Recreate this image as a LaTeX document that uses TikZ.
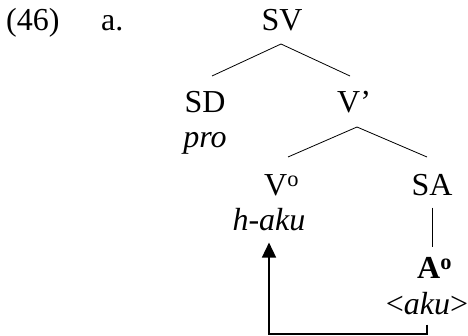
\documentclass[tikz,border=0pt]{standalone}
\usepackage{fontspec}
\setmainfont{Liberation Serif}
\usetikzlibrary{arrows.meta, calc}

\begin{document}
\begin{tikzpicture}[
    x=1pt, y=-1pt,
    font=\fontsize{32}{38}\selectfont,
    lbl/.style={inner sep=0pt, anchor=base},
    lblw/.style={inner sep=0pt, anchor=base west},
    branch/.style={line width=0.8pt, black},
    move/.style={-{Triangle[width=14pt, length=15pt]}, line width=1.6pt, black,
                 shorten <=10pt, shorten >=11pt}
  ]
    \useasboundingbox (0,0) rectangle (468,336);
    % example number
    \node[lblw] (ex) at (6,31) {(46)};
    \node[lblw] (exa) at (101,31) {a.};
    % tree labels
    \node[lbl] (sv) at (282,31) {SV};
    \node[lbl] (sd) at (205,113) {SD};
    \node[lbl] (pro) at (205,148) {\itshape pro};
    \node[lblw] (vbar) at (337,113) {V’};
    \node[lblw] (v0) at (264,196) {V\textsuperscript{o}};
    \node[lbl] (haku) at (269,231) {\itshape h-aku};
    \node[lbl] (sa) at (432,196) {SA};
    \node[lblw] (a0) at (417,279) {\bfseries A\textsuperscript{o}};
    \node[lbl] (aku) at (427,314) {<\textit{aku}>};
    % branch ends
    \coordinate (sv-b) at (281,44);
    \coordinate (sd-t) at (212,76);
    \coordinate (vbar-t) at (350,76);
    \coordinate (vbar-b) at (357,127);
    \coordinate (v0-t) at (288,157);
    \coordinate (sa-t) at (427,157);
    \coordinate (turn) at (428,334);
    % branches
    \draw[branch] (sd-t) -- (sv-b) -- (vbar-t);
    \draw[branch] (v0-t) -- (vbar-b) -- (sa-t);
    \draw[branch, shorten <=11pt, shorten >=11pt] (sa.south) -- (sa.south |- a0.north);
    % movement
    \draw[move] (aku.south) -- (aku.south |- turn) -| (haku.south);
  \end{tikzpicture}
\end{document}
